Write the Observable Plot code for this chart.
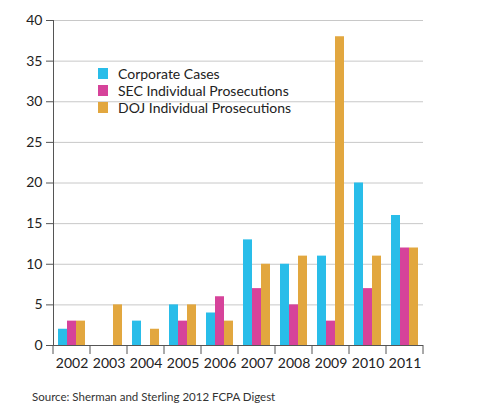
<!DOCTYPE html>
<html>
<head>
<meta charset="utf-8">
<script src="https://cdn.jsdelivr.net/npm/d3@7"></script>
<script src="https://cdn.jsdelivr.net/npm/@observablehq/plot@0.6"></script>
<style>
body { margin: 0; background: #fff; font-family: Lato, sans-serif; }
#wrap { position: relative; width: 500px; height: 407px; }
#legend { position: absolute; left: 98px; top: 65px; font-size: 14px; color: #222; }
.row { display: flex; align-items: center; height: 17px; }
.sw { width: 10px; height: 11px; margin-right: 10px; }
#source { position: absolute; left: 32px; top: 390px; font-size: 11.5px; color: #333; }
</style>
</head>
<body>
<div id="wrap">
  <div id="graph"></div>
  <div id="legend"></div>
  <div id="source">Source: Sherman and Sterling 2012 FCPA Digest</div>
</div>
<script>
const years = ["2002", "2003", "2004", "2005", "2006", "2007", "2008", "2009", "2010", "2011"];
const series = ["Corporate Cases", "SEC Individual Prosecutions", "DOJ Individual Prosecutions"];
const colors = ["#29bde9", "#d6439a", "#e2a73f"];
const corporate = [2, 0, 3, 5, 4, 13, 10, 11, 20, 16];
const sec = [3, 0, 0, 3, 6, 7, 5, 3, 7, 12];
const doj = [3, 5, 2, 5, 3, 10, 11, 38, 11, 12];
const yTicks = [0, 5, 10, 15, 20, 25, 30, 35, 40];

// long table for the grouped bars
var rows = [];
years.forEach(function(y, i) {
	rows.push({year: y, series: series[0], value: corporate[i]});
	rows.push({year: y, series: series[1], value: sec[i]});
	rows.push({year: y, series: series[2], value: doj[i]});
});

const chart = Plot.plot({
	width: 500,
	height: 382,
	marginTop: 20,
	marginBottom: 37,
	marginLeft: 49,
	marginRight: 73,
	style: {fontFamily: "Lato, sans-serif", fontSize: "14px", color: "#222"},
	fx: {domain: years, paddingInner: 0, paddingOuter: 0, label: null},
	x: {domain: series, paddingInner: 0, paddingOuter: 0.5, axis: null},
	y: {domain: [0, 40], label: null},
	color: {domain: series, range: colors},
	marks: [
		Plot.gridY(yTicks, {stroke: "#c8c8c8", strokeOpacity: 1}),
		Plot.barY(rows, {fx: "year", x: "series", y: "value", fill: "series"}),
		Plot.ruleY([0], {stroke: "#555"}),
		Plot.frame({anchor: "left", stroke: "#555", facetAnchor: "left"}),
		Plot.axisY(yTicks, {tickSize: 7, tickPadding: 4, stroke: "#555", fontSize: 14, label: null, facetAnchor: "left"}),
		Plot.axisFx({anchor: "bottom", tickSize: 0, tickPadding: 13, fontSize: 14, label: null})
	]
});

// ticks on the band edges, below the axis line
const fx = chart.scale("fx");
const ys = chart.scale("y");
const edges = years.map(function(y) {return fx.apply(y);});
edges.push(fx.apply(years[years.length - 1]) + fx.bandwidth);
d3.select(chart).append("g")
	.attr("stroke", "#555")
	.selectAll("line")
	.data(edges)
	.join("line")
	.attr("x1", d => d).attr("x2", d => d)
	.attr("y1", ys.apply(0)).attr("y2", ys.apply(0) + 9);

d3.select("#graph").append(() => chart);

const legend = d3.select("#legend");
series.forEach(function(s, i) {
	const row = legend.append("div").attr("class", "row");
	row.append("div").attr("class", "sw").style("background", colors[i]);
	row.append("span").text(s);
});
</script>
</body>
</html>
